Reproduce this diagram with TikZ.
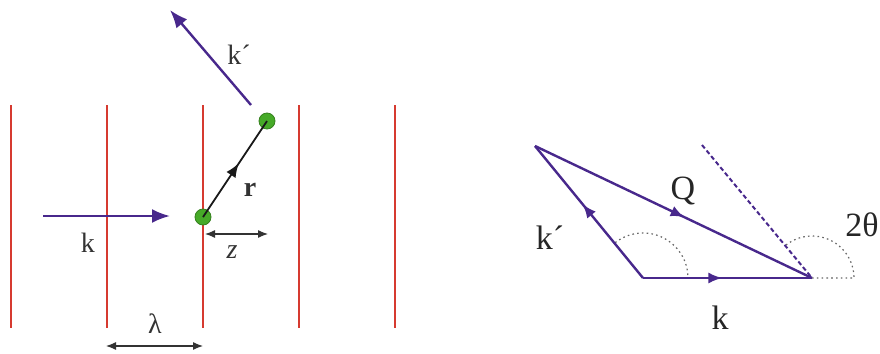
\documentclass[tikz,border=0pt]{standalone}
\usepackage{fontspec}
\setmainfont{Liberation Serif}
\usetikzlibrary{arrows.meta,decorations.markings}
\definecolor{planered}{RGB}{214,58,48}
\definecolor{wavepurple}{RGB}{72,40,140}
\definecolor{atomgreen}{RGB}{70,170,40}
\begin{document}
\begin{tikzpicture}[
    x=0.5pt, y=-0.5pt,
    plane/.style={planered, line width=1pt},
    wave/.style={wavepurple, line width=1.2pt, -{Latex[length=9pt,width=7pt]}},
    midarrow/.style={line width=1.2pt, postaction={decorate},
        decoration={markings, mark=at position #1 with {\arrow{Latex[length=7pt,width=5.5pt]}}}},
    dimline/.style={black!80, line width=0.6pt, {Latex[length=5pt,width=4pt]}-{Latex[length=5pt,width=4pt]}},
    atom/.style={circle, fill=atomgreen, draw=atomgreen!75!black, line width=0.4pt, inner sep=0pt, minimum size=8pt},
    anglearc/.style={black!60, line width=0.6pt, dash pattern=on 0.8pt off 1.6pt},
    lbl/.style={font=\fontsize{14}{16}\selectfont, text=black!80},
    biglbl/.style={font=\fontsize{17}{20}\selectfont, text=black!85}
]
    \useasboundingbox (0,0) rectangle (880,354);

    % Ebenen
    \foreach \x [count=\i] in {11,107,203,299,395} {
        \coordinate (plane-top-\i) at (\x,105);
        \coordinate (plane-bot-\i) at (\x,328);
        \draw[plane] (plane-top-\i) -- (plane-bot-\i);
    }

    % einfallende und gestreute Welle
    \coordinate (kin-start) at (43,216);
    \coordinate (kin-end) at (170,216);
    \draw[wave] (kin-start) -- (kin-end);
    \node[lbl] (kin-label) at (88,243) {k};

    \coordinate (kout-start) at (251,105);
    \coordinate (kout-end) at (170,10);
    \draw[wave] (kout-start) -- (kout-end);
    \node[lbl] (kout-label) at (239,55) {k´};

    % Streuzentren
    \node[atom] (atom-a) at (203,217) {};
    \node[atom] (atom-b) at (267,121) {};
    \draw[midarrow=0.56, black!90, line width=0.9pt] (atom-a.center) -- (atom-b.center);
    \node[lbl, font=\fontsize{14}{16}\selectfont\bfseries] (r-label) at (250,190) {r};

    % Abstaende
    \coordinate (z-left) at (205,234);
    \coordinate (z-right) at (268,234);
    \draw[dimline] (z-left) -- (z-right);
    \node[lbl, font=\fontsize{14}{16}\selectfont\itshape] (z-label) at (232,252) {z};

    \coordinate (lam-left) at (106,346);
    \coordinate (lam-right) at (203,346);
    \draw[dimline] (lam-left) -- (lam-right);
    \node[lbl] (lam-label) at (155,324) {λ};

    % Streudreieck
    \coordinate (apex) at (535,146);
    \coordinate (origin) at (643,278);
    \coordinate (tip) at (812,278);
    \coordinate (dash-top) at (702,145);

    \draw[anglearc] (origin) -- ++(45,0) arc[start angle=0, end angle=-129, radius=45];
    \draw[anglearc] (tip) -- ++(42,0) arc[start angle=0, end angle=-129, radius=42];
    \draw[wavepurple, line width=1pt, dash pattern=on 2.2pt off 1.4pt] (dash-top) -- (tip);

    \draw[midarrow=0.47, wavepurple] (origin) -- (tip);
    \draw[midarrow=0.56, wavepurple] (origin) -- (apex);
    \draw[midarrow=0.54, wavepurple] (apex) -- (tip);

    \node[biglbl] (q-label) at (683,191) {Q};
    \node[biglbl] (kp-label) at (550,238) {k´};
    \node[biglbl] (k-label) at (720,318) {k};
    \node[biglbl, anchor=west, inner sep=1pt] (theta-label) at (843,225) {2θ};
\end{tikzpicture}
\end{document}
